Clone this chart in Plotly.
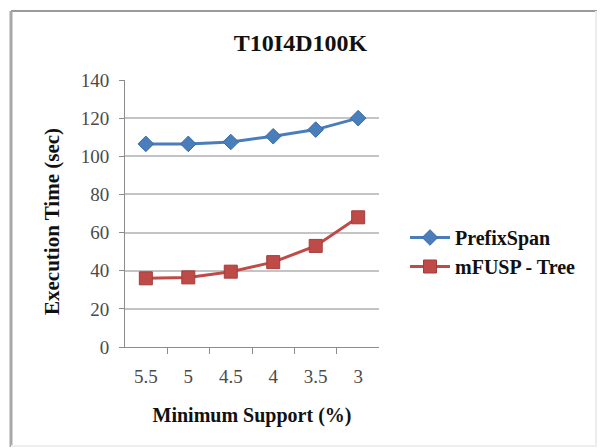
import plotly.graph_objects as go

categories = ["5.5", "5", "4.5", "4", "3.5", "3"]
prefixspan = [106.5, 106.5, 107.5, 110.5, 114, 120]
mfusp_tree = [36, 36.5, 39.5, 44.5, 53, 68]
y_ticks = [0, 20, 40, 60, 80, 100, 120, 140]

SERIF = "Liberation Serif"
TICKSERIF = "Times New Roman, Liberation Serif, DejaVu Serif, serif"

fig = go.Figure()
fig.add_trace(go.Scatter(
    x=categories, y=prefixspan, name="<b>PrefixSpan</b>", mode="lines+markers",
    line=dict(color="#4a7ebb", width=3),
    marker=dict(symbol="diamond", size=12, color="#4a7ebb", line=dict(color="#3a6aa6", width=1)),
))
fig.add_trace(go.Scatter(
    x=categories, y=mfusp_tree, name="<b>mFUSP - Tree</b>", mode="lines+markers",
    line=dict(color="#be4b48", width=3),
    marker=dict(symbol="square", size=13, color="#be4b48", line=dict(color="#a33d3a", width=1)),
))

W, H = 601, 448
L, R, T, B = 125, 222, 80, 101
pw, ph = W - L - R, H - T - B

def px(x):
    return (x - L) / pw

def py(y):
    return (H - B - y) / ph

shapes = [
    dict(type="line", xref="paper", yref="paper", x0=px(11), x1=px(597), y0=py(11), y1=py(11),
         line=dict(color="#9a9a9a", width=2)),
    dict(type="line", xref="paper", yref="paper", x0=px(11), x1=px(11), y0=py(11), y1=py(447),
         line=dict(color="#a8a8a8", width=3)),
    dict(type="line", xref="paper", yref="paper", x0=px(596), x1=px(596), y0=py(11), y1=py(447),
         line=dict(color="#ececec", width=2)),
    dict(type="line", xref="paper", yref="paper", x0=px(11), x1=px(597), y0=py(446), y1=py(446),
         line=dict(color="#eeeeee", width=2)),
]

fig.update_layout(
    width=W, height=H,
    margin=dict(l=L, r=R, t=T, b=B),
    paper_bgcolor="white", plot_bgcolor="white",
    font=dict(family=TICKSERIF, color="#000000"),
    title=dict(text="<b>T10I4D100K</b>", x=px(252), xanchor="center", y=1 - 43 / H, yanchor="middle",
               font=dict(family=SERIF, size=24, color="#111111")),
    xaxis=dict(
        type="category", categoryorder="array", categoryarray=categories,
        showline=True, linecolor="#8c8c8c", linewidth=1,
        ticks="outside", tickson="boundaries", ticklen=6, tickcolor="#8c8c8c",
        showgrid=False,
        tickfont=dict(family=TICKSERIF, size=19, color="#4a4a4a", weight="normal"),
        ticklabelstandoff=12,
        title=dict(text="<b>Minimum Support (%)</b>", font=dict(family=SERIF, size=20, color="#111111"), standoff=22),
    ),
    yaxis=dict(
        range=[0, 140], tickvals=y_ticks, ticktext=[str(v) for v in y_ticks],
        showline=True, linecolor="#8c8c8c", linewidth=1,
        ticks="outside", ticklen=5, tickcolor="#8c8c8c",
        showgrid=True, gridcolor="#c4c4c4", gridwidth=1.5,
        zeroline=False,
        tickfont=dict(family=TICKSERIF, size=19, color="#4a4a4a", weight="normal"),
        ticklabelstandoff=6,
    ),
    annotations=[dict(
        text="<b>Execution Time (sec)</b>", textangle=-90,
        xref="paper", yref="paper", x=px(52), y=py(222), xanchor="center", yanchor="middle",
        showarrow=False, font=dict(family=SERIF, size=21, color="#111111"),
    )],
    legend=dict(x=px(405), y=py(252), xanchor="left", yanchor="middle",
                font=dict(family=SERIF, size=20, color="#111111"),
                bgcolor="rgba(0,0,0,0)", tracegroupgap=4, itemwidth=40),
    shapes=shapes,
    showlegend=True,
)

fig.write_html("out.html")
